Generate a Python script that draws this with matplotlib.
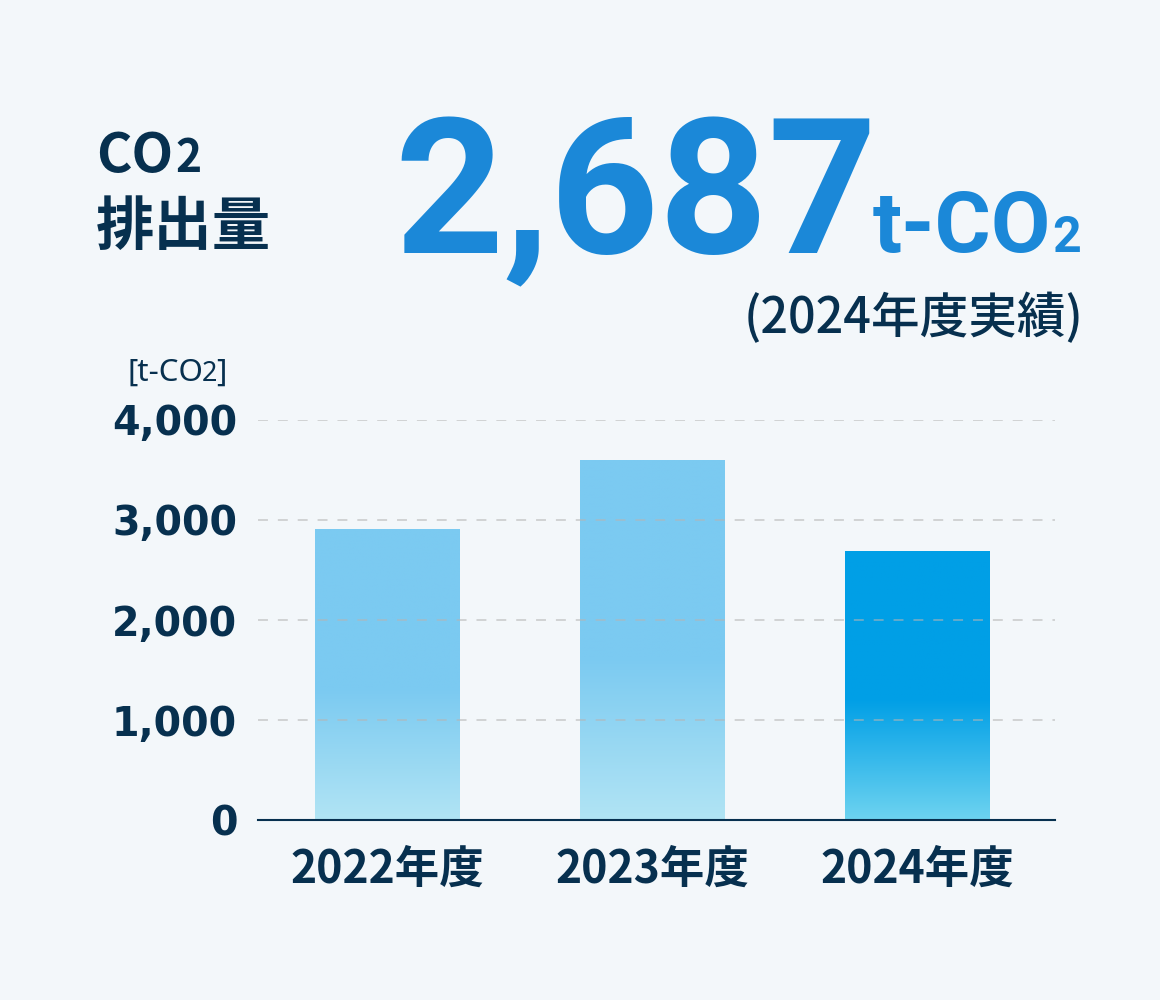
import numpy as np
import matplotlib.pyplot as plt
from matplotlib.colors import to_rgba

years = ['2022年度', '2023年度', '2024年度']
values = [2900, 3590, 2687]
yticks = [0, 1000, 2000, 3000, 4000]
ytick_labels = ['0', '1,000', '2,000', '3,000', '4,000']
headline = '2,687'

bg = '#f3f7fa'
navy = '#07304f'
blue = '#1b88d8'
top_cols = ['#7bcaf1', '#7bcaf1', '#009fe6']
bot_cols = ['#b1e4f4', '#b1e4f4', '#6dd3f0']


def gradient(top, bottom, n=200, solid=0.55):
    t = np.linspace(0, 1, n)
    k = np.clip((t - solid) / (1 - solid), 0, 1)[:, None]
    a = np.array(to_rgba(top))
    b = np.array(to_rgba(bottom))
    return (a * (1 - k) + b * k)[:, None, :]


def chain_text(fig, r, x, y, parts, gap=0.0, **kw):
    # pieces of text on one baseline, each with its own size
    for s, size in parts:
        t = fig.text(x, y, s, fontsize=size, va='baseline', **kw)
        fig.canvas.draw()
        x = t.get_window_extent(r).x1 / 1160 + gap


def main():
    fig = plt.figure(figsize=(11.6, 10), dpi=100, facecolor=bg)
    ax = fig.add_axes([258 / 1160, 0.18, (1055 - 258) / 1160, 0.4])
    ax.set_facecolor(bg)

    w = 0.547
    for i, v in enumerate(values):
        ax.imshow(gradient(top_cols[i], bot_cols[i]), extent=(i - w / 2, i + w / 2, 0, v),
                  aspect='auto', interpolation='bilinear', zorder=2)

    for y in yticks[1:]:
        ax.axhline(y, color='#b5b5b5', lw=1.1, alpha=0.7, zorder=3,
                   linestyle=(0, (6.5, 6.5)))

    ax.set_xlim(-0.487, 2.52)
    ax.set_ylim(0, 4000)
    ax.set_yticks(yticks)
    ax.set_yticklabels(ytick_labels)
    ax.set_xticks(range(len(years)))
    ax.set_xticklabels(years)
    for s in ['top', 'right', 'left']:
        ax.spines[s].set_visible(False)
    ax.spines['bottom'].set_color(navy)
    ax.spines['bottom'].set_linewidth(1.5)
    ax.spines['bottom'].set_zorder(4)
    ax.tick_params(axis='y', length=0, pad=15)
    ax.tick_params(axis='x', length=0, pad=19)
    for lab in ax.get_yticklabels():
        lab.set_fontfamily('DejaVu Sans')
        lab.set_fontweight('bold')
        lab.set_fontsize(28.5)
        lab.set_color(navy)
    for lab in ax.get_xticklabels():
        lab.set_fontfamily(['Noto Sans CJK JP', 'DejaVu Sans'])
        lab.set_fontweight('bold')
        lab.set_fontsize(32)
        lab.set_color(navy)

    cjk = ['Noto Sans CJK JP', 'DejaVu Sans']
    fig.canvas.draw()
    r = fig.canvas.get_renderer()

    chain_text(fig, r, 96 / 1160, 1 - 172 / 1000, [('CO', 39), ('2', 32)], gap=0.002,
               fontweight='bold', color=navy, family=cjk)
    fig.text(96 / 1160, 1 - 245 / 1000, '排出量', fontsize=42, fontweight='bold',
             color=navy, family=cjk, va='baseline')
    fig.text(394 / 1160, 1 - 253 / 1000, headline, fontsize=137, fontweight='bold',
             color=blue, family='Roboto', va='baseline')
    chain_text(fig, r, 873 / 1160, 1 - 252 / 1000, [('t-CO', 62), ('2', 36)], gap=0.0005,
               fontweight='bold', color=blue, family='Roboto')

    fig.text(1083 / 1160, 1 - 333 / 1000, '(2024年度実績)', fontsize=35, fontweight='medium',
             color=navy, family=cjk, va='baseline', ha='right')
    chain_text(fig, r, 127 / 1160, 1 - 381 / 1000, [('[t-CO', 22.5), ('2', 19.5), (']', 22.5)],
               gap=-0.001, color=navy, family=['Noto Sans', 'DejaVu Sans'])

    fig.savefig('out.png', dpi=100, facecolor=bg)


if __name__ == "__main__":
    main()
